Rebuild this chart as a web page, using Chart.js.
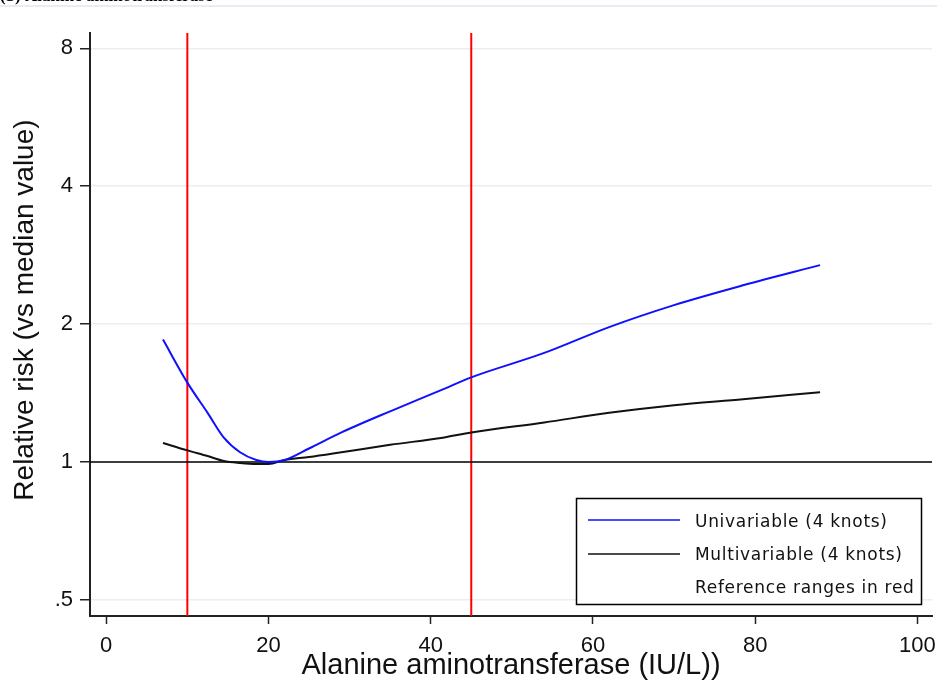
<!DOCTYPE html>
<html>
<head>
<meta charset="utf-8">
<script src="https://cdn.jsdelivr.net/npm/chart.js@4.4.1/dist/chart.umd.min.js"></script>
<style>
  html, body { margin: 0; padding: 0; background: #fff; }
  #wrap { width: 937px; height: 686px; position: relative; }
</style>
</head>
<body>
<div id="wrap"><canvas id="rrChart"></canvas></div>
<script>
const altValues = [7, 10, 12.5, 14.5, 16.5, 18.5, 20, 22, 25, 29, 35, 41.5, 45, 54, 62, 70, 78.5, 88];
// relative risk vs median value
const univariableRR = [1.85, 1.49, 1.28, 1.13, 1.05, 1.01, 1.0, 1.01, 1.07, 1.16, 1.29, 1.44, 1.53, 1.73, 1.97, 2.20, 2.43, 2.69];
const multivariableRR = [1.10, 1.06, 1.03, 1.005, 0.995, 0.99, 0.99, 1.01, 1.025, 1.05, 1.09, 1.13, 1.16, 1.22, 1.28, 1.33, 1.37, 1.42];
// reference range limits (red lines)
const refRange = [10, 45];
const xTicks = [0, 20, 40, 60, 80, 100];
const yTicks = [0.5, 1, 2, 4, 8];
const yTickLabels = ['.5', '1', '2', '4', '8'];
const seriesNames = ['Univariable (4 knots)', 'Multivariable (4 knots)', 'Reference ranges in red'];

const xMin = -2, xMax = 101.8;
const yMin = 0.461, yMax = 8.64;

function toPoints(xs, ys) {
    return xs.map((x, i) => ({ x: x, y: ys[i] }));
}

// legend box + faint frame + clipped heading, drawn by hand (Stata style)
const extras = {
    id: 'extras',
    beforeDraw(chart) {
        const ctx = chart.ctx;
        ctx.save();
        ctx.strokeStyle = '#e8edf4';
        ctx.lineWidth = 2;
        ctx.beginPath();
        ctx.moveTo(0, 6);
        ctx.lineTo(937, 6);
        ctx.stroke();
        ctx.fillStyle = '#000';
        ctx.font = 'bold 17px "Liberation Serif"';
        ctx.textBaseline = 'alphabetic';
        ctx.fillText('(b) Alanine aminotransferase', 0, 1);
        ctx.restore();
    },
    afterDraw(chart) {
        const ctx = chart.ctx;
        const ds = chart.data.datasets;
        ctx.save();
        ctx.fillStyle = '#fff';
        ctx.fillRect(576, 498, 346, 107);
        ctx.strokeStyle = '#000';
        ctx.lineWidth = 1.5;
        ctx.strokeRect(576.5, 498.5, 345, 106);
        ctx.font = '17px "DejaVu Sans"';
        ctx.letterSpacing = '0.7px';
        ctx.textBaseline = 'middle';
        ctx.fillStyle = '#111';
        const lineRows = [520, 554];
        const textRows = [523, 556, 589];
        seriesNames.forEach((name, i) => {
            if (i < 2) {
                ctx.strokeStyle = ds[i].borderColor;
                ctx.lineWidth = 1.5;
                ctx.beginPath();
                ctx.moveTo(588, lineRows[i]);
                ctx.lineTo(680, lineRows[i]);
                ctx.stroke();
            }
            ctx.fillText(name, 695, textRows[i]);
        });
        ctx.restore();
    }
};

new Chart(document.getElementById('rrChart'), {
    type: 'line',
    data: {
        datasets: [{
            label: seriesNames[0],
            data: toPoints(altValues, univariableRR),
            borderColor: '#1010ff',
            borderWidth: 2,
            pointRadius: 0,
            cubicInterpolationMode: 'monotone'
        }, {
            label: seriesNames[1],
            data: toPoints(altValues, multivariableRR),
            borderColor: '#111',
            borderWidth: 2,
            pointRadius: 0,
            cubicInterpolationMode: 'monotone'
        }, {
            label: 'RR = 1',
            data: [{ x: xMin, y: 1 }, { x: xMax, y: 1 }],
            borderColor: '#000',
            borderWidth: 1.5,
            pointRadius: 0
        }, {
            label: 'lower limit',
            data: [{ x: refRange[0], y: yMin }, { x: refRange[0], y: yMax }],
            borderColor: '#ff0000',
            borderWidth: 2,
            pointRadius: 0
        }, {
            label: 'upper limit',
            data: [{ x: refRange[1], y: yMin }, { x: refRange[1], y: yMax }],
            borderColor: '#ff0000',
            borderWidth: 2,
            pointRadius: 0
        }]
    },
    options: {
        responsive: true,
        maintainAspectRatio: false,
        animation: false,
        events: [],
        layout: { padding: { top: 33, right: 5, left: 0, bottom: 0 } },
        plugins: {
            legend: { display: false },
            tooltip: { enabled: false }
        },
        scales: {
            x: {
                type: 'linear',
                min: xMin,
                max: xMax,
                afterBuildTicks: axis => { axis.ticks = xTicks.map(v => ({ value: v })); },
                afterFit: axis => {
                    axis.height = 70;
                    axis.paddingLeft = 0;
                    axis.paddingRight = 0;
                },
                grid: { drawOnChartArea: false, tickColor: '#222', tickLength: 8, tickWidth: 1.5 },
                border: { color: '#222', width: 2 },
                ticks: {
                    color: '#111',
                    font: { family: '"Liberation Sans", Arial', size: 22 },
                    padding: 9,
                    maxRotation: 0
                },
                title: {
                    display: true,
                    text: 'Alanine aminotransferase (IU/L))',
                    color: '#111',
                    font: { family: '"Liberation Sans", Arial', size: 29 },
                    padding: { top: 0, bottom: 3 }
                }
            },
            y: {
                type: 'logarithmic',
                min: yMin,
                max: yMax,
                afterBuildTicks: axis => { axis.ticks = yTicks.map(v => ({ value: v })); },
                afterFit: axis => {
                    axis.width = 90;
                    axis.paddingTop = 0;
                    axis.paddingBottom = 0;
                },
                grid: { color: '#e9eef5', lineWidth: 1.5, tickColor: '#222', tickLength: 10, tickWidth: 1.5 },
                border: { color: '#222', width: 2 },
                ticks: {
                    color: '#111',
                    font: { family: '"Liberation Sans", Arial', size: 22 },
                    padding: 7,
                    callback: v => yTickLabels[yTicks.indexOf(v)]
                },
                title: {
                    display: true,
                    text: '   \u2009Relative risk (vs median value)',
                    color: '#111',
                    font: { family: '"Liberation Sans", Arial', size: 28 },
                    padding: { top: 8, bottom: 0 }
                }
            }
        }
    },
    plugins: [extras]
});
</script>
</body>
</html>
